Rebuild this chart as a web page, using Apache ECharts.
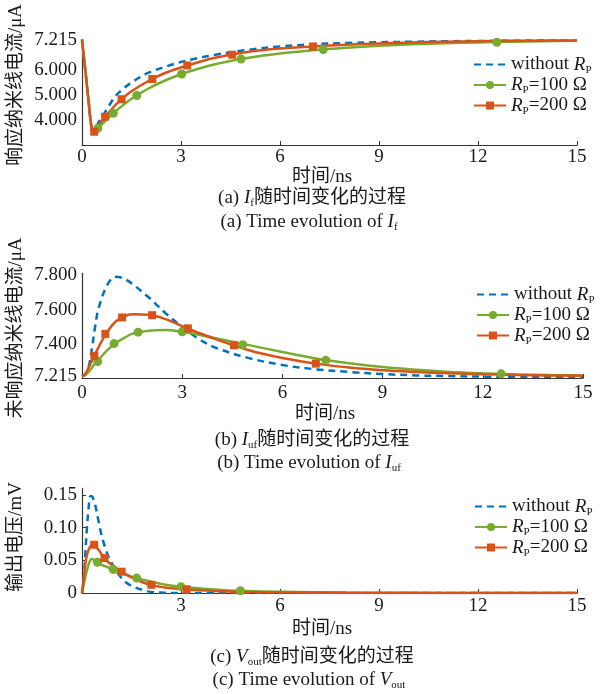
<!DOCTYPE html>
<html><head><meta charset="utf-8">
<script src="https://cdn.jsdelivr.net/npm/echarts/dist/echarts.min.js"></script>
<style>html,body{margin:0;padding:0;background:#fff}#c{width:607px;height:694px}</style>
</head><body><div id="c"></div>
<script>
// ---------- data ----------
const xTicks = [0, 3, 6, 9, 12, 15];
const xTicksC = [3, 6, 9, 12, 15];
const fTicks = [4, 5, 6, 7.215];
const uTicks = [7.215, 7.4, 7.6, 7.8];
const vTicks = [0, 0.05, 0.10, 0.15];

// (a) I_f  (time in ns, current in uA)
const fT = [0, 0.1, 0.2, 0.3, 0.37, 0.5, 0.75, 1.0, 1.25, 1.5, 2.0, 2.5, 3.0, 3.5, 4.0, 5, 6, 7, 8, 9, 10, 11, 12, 13, 14, 15];
const fV_none = [7.215, 6.0, 4.75, 3.66, 3.63, 3.9, 4.42, 4.93, 5.25, 5.5, 5.88, 6.12, 6.32, 6.47, 6.6, 6.8, 6.94, 7.03, 7.08, 7.11, 7.13, 7.15, 7.16, 7.17, 7.18, 7.18];
const fV_100 = [7.215, 6.0, 4.75, 3.6, 3.56, 3.7, 4.02, 4.33, 4.6, 4.85, 5.25, 5.57, 5.83, 6.04, 6.22, 6.48, 6.66, 6.79, 6.89, 6.97, 7.03, 7.07, 7.1, 7.13, 7.15, 7.17];
const fV_200 = [7.215, 6.0, 4.75, 3.62, 3.53, 3.78, 4.2, 4.58, 4.89, 5.15, 5.55, 5.87, 6.1, 6.3, 6.48, 6.72, 6.86, 6.94, 7.01, 7.06, 7.1, 7.13, 7.15, 7.165, 7.175, 7.18];
const fMkT_100 = [0.48, 0.95, 1.66, 3.02, 4.82, 7.31, 12.57];
const fMkV_100 = [3.67, 4.27, 4.98, 5.84, 6.44, 6.82, 7.11];
const fMkT_200 = [0.37, 0.7, 1.2, 2.13, 3.19, 4.55, 7.0];
const fMkV_200 = [3.53, 4.13, 4.83, 5.64, 6.18, 6.61, 6.94];

// (b) I_uf
const uT = [0, 0.1, 0.2, 0.3, 0.4, 0.5, 0.75, 1.0, 1.25, 1.5, 2.0, 2.5, 3.0, 3.5, 4.0, 5, 6, 7, 8, 9, 10, 11, 12, 13, 14, 15];
const uV_none = [7.215, 7.225, 7.27, 7.38, 7.51, 7.61, 7.74, 7.79, 7.78, 7.75, 7.67, 7.58, 7.50, 7.43, 7.38, 7.32, 7.28, 7.255, 7.24, 7.228, 7.22, 7.216, 7.213, 7.212, 7.211, 7.21];
const uV_100 = [7.215, 7.222, 7.24, 7.265, 7.29, 7.31, 7.365, 7.405, 7.435, 7.46, 7.478, 7.482, 7.472, 7.455, 7.435, 7.395, 7.355, 7.318, 7.29, 7.268, 7.252, 7.24, 7.232, 7.226, 7.222, 7.219];
const uV_200 = [7.215, 7.23, 7.265, 7.305, 7.345, 7.385, 7.47, 7.53, 7.56, 7.573, 7.57, 7.545, 7.505, 7.465, 7.43, 7.365, 7.32, 7.288, 7.265, 7.25, 7.24, 7.232, 7.227, 7.223, 7.22, 7.218];
const uMkT_100 = [0.47, 0.96, 1.68, 3.0, 4.81, 7.3, 12.55];
const uMkV_100 = [7.30, 7.404, 7.47, 7.472, 7.397, 7.307, 7.229];
const uMkT_200 = [0.37, 0.7, 1.2, 2.1, 3.17, 4.55, 7.0];
const uMkV_200 = [7.333, 7.46, 7.555, 7.568, 7.492, 7.394, 7.288];

// (c) V_out (mV)
const vT = [0, 0.05, 0.1, 0.15, 0.2, 0.25, 0.3, 0.35, 0.4, 0.5, 0.6, 0.7, 0.8, 1.0, 1.25, 1.5, 2.0, 2.5, 3, 4, 5, 6, 8, 10, 12, 15];
const vV_none = [0, 0.02, 0.06, 0.1, 0.13, 0.148, 0.148, 0.143, 0.135, 0.11, 0.087, 0.07, 0.056, 0.037, 0.02, 0.011, 0.0025, 0.0005, 0, 0, 0, 0, 0, 0, 0, 0];
const vV_100 = [0, 0.012, 0.024, 0.035, 0.044, 0.05, 0.052, 0.051, 0.049, 0.046, 0.043, 0.041, 0.039, 0.035, 0.03, 0.025, 0.0185, 0.013, 0.0097, 0.0055, 0.003, 0.0018, 0.0007, 0.0003, 0.0001, 0];
const vV_200 = [0, 0.02, 0.044, 0.058, 0.066, 0.071, 0.0735, 0.074, 0.0725, 0.066, 0.059, 0.052, 0.047, 0.039, 0.031, 0.024, 0.0135, 0.0085, 0.0062, 0.0032, 0.0017, 0.001, 0.0003, 0.0001, 0, 0];
const vMkT_100 = [0.47, 0.95, 1.66, 3.0, 4.8];
const vMkV_100 = [0.047, 0.036, 0.0228, 0.0097, 0.0035];
const vMkT_200 = [0.37, 0.68, 1.2, 2.1, 3.17];
const vMkV_200 = [0.0738, 0.0534, 0.0326, 0.0125, 0.0057];

// ---------- styling ----------
const FONT = '"Liberation Serif","Times New Roman","Noto Sans CJK SC",serif';
const FS = 19;
const TXT = '#1a1a1a';
const BLUE = '#0072BD', GREEN = '#77AC30', RED = '#D95319';
const richBase = {
  n: {fontFamily: FONT, fontSize: FS, color: TXT, lineHeight: 22, verticalAlign: 'middle'},
  i: {fontFamily: FONT, fontSize: FS, fontStyle: 'italic', color: TXT, lineHeight: 22, verticalAlign: 'middle'},
  s: {fontFamily: FONT, fontSize: 11, color: TXT, lineHeight: 12, verticalAlign: 'bottom'}
};

function zip(t, v) { return t.map((x, i) => [x, v[i]]); }
function line(name, idx, t, v, color, sym, dashed) {
  return {
    type: 'line', name: name, xAxisIndex: idx, yAxisIndex: idx,
    data: zip(t, v), smooth: 0.35,
    symbol: sym, symbolSize: sym === 'rect' ? 8 : 9, showSymbol: false,
    itemStyle: {color: color}, lineStyle: {color: color, width: 2.5, type: dashed ? [7, 5] : 'solid'},
    emphasis: {disabled: true}, animation: false, z: 3
  };
}
function marks(idx, t, v, color, sym) {
  return {
    type: 'scatter', name: 'mk', xAxisIndex: idx, yAxisIndex: idx,
    data: zip(t, v), symbol: sym, symbolSize: sym === 'rect' ? 8 : 9,
    itemStyle: {color: color, opacity: 1}, emphasis: {disabled: true}, animation: false, z: 4, silent: true
  };
}
function legendFmt(n) {
  if (n === 'without') return '{n|without }{i|R}{s|P}';
  return '{i|R}{s|P}{n|=' + n + ' Ω}';
}
function legend(left, top) {
  return {left: left, top: top, orient: 'vertical', itemWidth: 32, itemHeight: 10, itemGap: 0,
    data: [{name: 'without', itemStyle: {opacity: 0}}, '100', '200'], formatter: legendFmt, selectedMode: false,
    textStyle: {fontFamily: FONT, fontSize: FS, color: TXT, rich: richBase}};
}
function xAxis(idx, margin, gap, ticks) {
  return {gridIndex: idx, type: 'value', min: 0, max: 15, interval: 3,
    axisLine: {lineStyle: {color: '#333', width: 1.2}},
    axisTick: {inside: true, length: 4, lineStyle: {color: '#333'}, customValues: xTicks},
    axisLabel: {fontFamily: FONT, fontSize: FS, color: TXT, margin: margin, customValues: ticks},
    splitLine: {show: false},
    name: '时间/ns', nameLocation: 'middle', nameGap: gap,
    nameTextStyle: {fontFamily: FONT, fontSize: FS, color: TXT, verticalAlign: 'top', padding: [0, 15, 0, 0]}};
}
function yAxis(idx, min, max, ticks, fmt, showTick) {
  return {gridIndex: idx, type: 'value', min: min, max: max,
    axisLine: {show: true, lineStyle: {color: '#333', width: 1.2}},
    axisTick: {show: !!showTick, inside: true, length: 4, lineStyle: {color: '#333'}, customValues: ticks},
    axisLabel: {fontFamily: FONT, fontSize: FS, color: TXT, margin: 5, customValues: ticks, formatter: fmt},
    splitLine: {show: false}};
}
function gtext(x, y, text, rot) {
  return {type: 'text', x: x, y: y, rotation: rot || 0,
    style: {text: text, rich: richBase, fontFamily: FONT, fontSize: FS, fill: TXT,
      align: 'center', verticalAlign: 'middle', textAlign: 'center', textVerticalAlign: 'middle'}};
}

const chart = echarts.init(document.getElementById('c'), null, {renderer: 'canvas'});
chart.setOption({
  backgroundColor: '#fff',
  animation: false,
  grid: [
    {left: 82, top: 39.6, width: 495, height: 105.4},
    {left: 82, top: 273.3, width: 501, height: 104.7},
    {left: 82, top: 488.4, width: 495, height: 104.6}
  ],
  xAxis: [xAxis(0, 3, 18, xTicks), xAxis(1, 6, 27, xTicks), xAxis(2, 4, 27, xTicksC)],
  yAxis: [
    yAxis(0, 3.0, 7.215, fTicks, v => v.toFixed(3)),
    yAxis(1, 7.205, 7.81, uTicks, v => v.toFixed(3)),
    yAxis(2, 0, 0.16, vTicks, v => v === 0 ? '0' : v.toFixed(2), true)
  ],
  legend: [legend(468, 50), legend(471, 280), legend(469, 492)],
  series: [
    line('without', 0, fT, fV_none, BLUE, 'none', true),
    line('100', 0, fT, fV_100, GREEN, 'circle'),
    line('200', 0, fT, fV_200, RED, 'rect'),
    marks(0, fMkT_100, fMkV_100, GREEN, 'circle'),
    marks(0, fMkT_200, fMkV_200, RED, 'rect'),
    line('without', 1, uT, uV_none, BLUE, 'none', true),
    line('100', 1, uT, uV_100, GREEN, 'circle'),
    line('200', 1, uT, uV_200, RED, 'rect'),
    marks(1, uMkT_100, uMkV_100, GREEN, 'circle'),
    marks(1, uMkT_200, uMkV_200, RED, 'rect'),
    line('without', 2, vT, vV_none, BLUE, 'none', true),
    line('100', 2, vT, vV_100, GREEN, 'circle'),
    line('200', 2, vT, vV_200, RED, 'rect'),
    marks(2, vMkT_100, vMkV_100, GREEN, 'circle'),
    marks(2, vMkT_200, vMkV_200, RED, 'rect')
  ],
  graphic: [
    gtext(16, 85, '响应纳米线电流/μA', Math.PI / 2),
    gtext(16, 328, '未响应纳米线电流/μA', Math.PI / 2),
    gtext(16, 537, '输出电压/mV', Math.PI / 2),
    gtext(312, 198, '{n|(a) }{i|I}{s|f}{n|随时间变化的过程}'),
    gtext(309, 222, '{n|(a) Time evolution of }{i|I}{s|f}'),
    gtext(312, 440, '{n|(b) }{i|I}{s|uf}{n|随时间变化的过程}'),
    gtext(309, 463, '{n|(b) Time evolution of }{i|I}{s|uf}'),
    gtext(312, 657, '{n|(c) }{i|V}{s|out}{n|随时间变化的过程}'),
    gtext(309, 680, '{n|(c) Time evolution of }{i|V}{s|out}')
  ]
});
</script>
</body></html>
